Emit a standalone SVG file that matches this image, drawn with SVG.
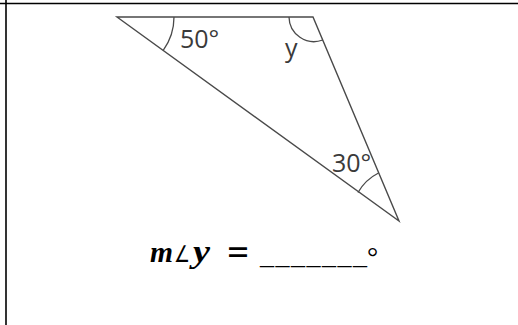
<svg xmlns="http://www.w3.org/2000/svg" width="518" height="325" viewBox="0 0 518 325">
<style>
.frame{stroke:#000;stroke-width:1.6;fill:none}
.edge{stroke:#4a4a4a;stroke-width:1.4;fill:none;stroke-linecap:round}
.arc{stroke:#4a4a4a;stroke-width:1.3;fill:none}
.lbl{font-family:"Open Sans","Liberation Sans",sans-serif;font-size:25px;fill:#3a3a3a}
.eq{font-family:"Liberation Serif","DejaVu Serif",serif;font-size:28px;fill:#000}
.bi{font-weight:bold;font-style:italic}
</style>
<rect width="518" height="325" fill="#fff"/>
<g id="frame">
<line class="frame" x1="0" y1="3.5" x2="518" y2="3.5"/>
<line class="frame" x1="6" y1="0" x2="6" y2="325"/>
</g>
<g id="triangle">
<polygon class="edge" points="117,17 313,17 399,221"/>
</g>
<g id="angles">
<path class="arc" d="M174,17 A57,57 0 0 1 163.2,50.4"/>
<path class="arc" d="M289,17 A25,25 0 0 0 322.8,40"/>
<path class="arc" d="M358,192.5 A49,49 0 0 1 378.5,173"/>
</g>
<g id="labels">
<text class="lbl" x="180" y="48">50°</text>
<text class="lbl" x="285" y="57">y</text>
<text class="lbl" x="332" y="172">30°</text>
</g>
<g id="question">
<text class="eq" y="262"><tspan class="bi" x="150" font-size="29" textLength="23" lengthAdjust="spacingAndGlyphs">m</tspan><tspan x="174" font-family="DejaVu Sans,sans-serif" font-size="23" textLength="16" lengthAdjust="spacingAndGlyphs">∠</tspan><tspan class="bi" x="193" font-size="31" textLength="17" lengthAdjust="spacingAndGlyphs">y</tspan><tspan x="226" y="263" font-family="DejaVu Sans,sans-serif" font-size="34" textLength="24" lengthAdjust="spacingAndGlyphs">=</tspan></text>
<text class="eq" x="260" y="264" textLength="107" lengthAdjust="spacing">_______</text>
<text class="eq" x="367" y="266" font-family="Liberation Sans,sans-serif" font-size="27">°</text>
</g>
</svg>
